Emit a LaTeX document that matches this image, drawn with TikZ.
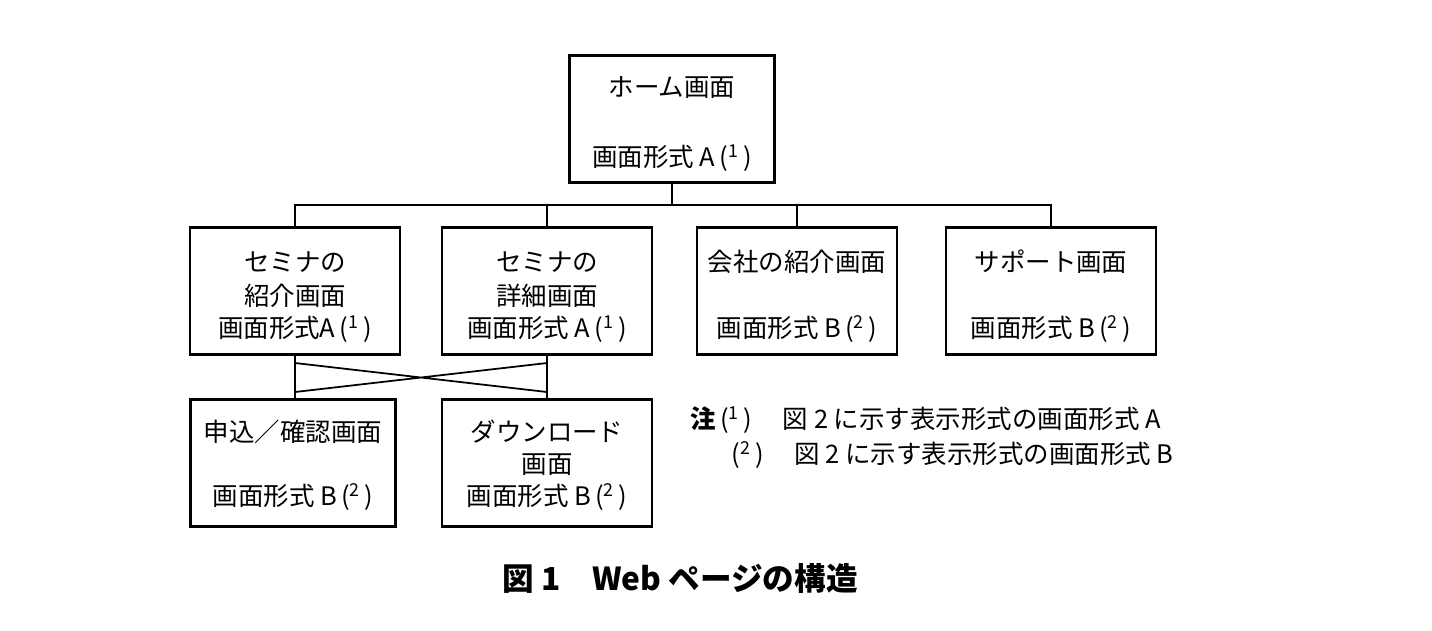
\documentclass[tikz,border=0pt]{standalone}
\usepackage{fontspec}
\setmainfont{Liberation Serif}
\newfontfamily\cjk{Noto Sans CJK JP}
\usetikzlibrary{positioning}
\newcommand{\sq}[1]{\,(\textsuperscript{#1}\,)}
\begin{document}
\begin{tikzpicture}[x=0.02cm,y=-0.02cm]
\tikzset{page/.style={draw,line width=1.2pt,minimum width=#1*0.02cm,minimum height=127*0.02cm,inner sep=0pt},
  txt/.style={inner sep=0pt,font=\cjk\fontsize{14.5}{16}\selectfont}}
\useasboundingbox (0,0) rectangle (1432,630);
% boxes
\node[page=205] (home) at (672,119) {};
\node[page=210] (sem) at (295,291) {};
\node[page=210] (det) at (547,291) {};
\node[page=200] (com) at (797,291) {};
\node[page=210] (sup) at (1051,291) {};
\node[page=205] (app) at (293,463) {};
\node[page=210] (dl) at (547,463) {};
% texts
\node[txt] at (672,88) {ホーム画面};
\node[txt] at (672,158) {画面形式 A\sq{1}};
\node[txt] at (295,262) {セミナの};
\node[txt] at (295,296) {紹介画面};
\node[txt] at (295,329) {画面形式A\sq{1}};
\node[txt] at (547,262) {セミナの};
\node[txt] at (547,296) {詳細画面};
\node[txt] at (547,329) {画面形式 A\sq{1}};
\node[txt] at (797,262) {会社の紹介画面};
\node[txt] at (797,329) {画面形式 B\sq{2}};
\node[txt] at (1051,262) {サポート画面};
\node[txt] at (1051,329) {画面形式 B\sq{2}};
\node[txt] at (293,432) {申込／確認画面};
\node[txt] at (293,497) {画面形式 B\sq{2}};
\node[txt] at (547,432) {ダウンロード};
\node[txt] at (547,465) {画面};
\node[txt] at (547,497) {画面形式 B\sq{2}};
% notes
\node[txt,anchor=west] (n1) at (690,420) {\textbf{注}\sq{1}\hspace{1.2em}図 2 に示す表示形式の画面形式 A};
\node[txt,anchor=west] (n2) at (727,455) {\sq{2}\hspace{1.2em}図 2 に示す表示形式の画面形式 B};
\node[inner sep=0pt,font=\cjk\bfseries\fontsize{18}{20}\selectfont] (cap) at (680,578) {図 1\hspace{1em}Web ページの構造};
% tree
\coordinate (bus) at (672,205);
\coordinate (xa) at (295,363);
\coordinate (xb) at (547,392);
\coordinate (xc) at (547,363);
\coordinate (xd) at (295,392);
\draw[line width=1.2pt] (home.south) -- (bus);
\draw[line width=1.2pt] (sem.north) |- (bus) -| (sup.north);
\draw[line width=1.2pt] (det.north) -- (det.north|-bus);
\draw[line width=1.2pt] (com.north) -- (com.north|-bus);
\draw[line width=1.2pt] (sem.south) -- (sem.south|-app.north);
\draw[line width=1.2pt] (det.south) -- (dl.north);
\draw[line width=1pt] (xa) -- (xb) (xc) -- (xd);
\end{tikzpicture}
\end{document}
